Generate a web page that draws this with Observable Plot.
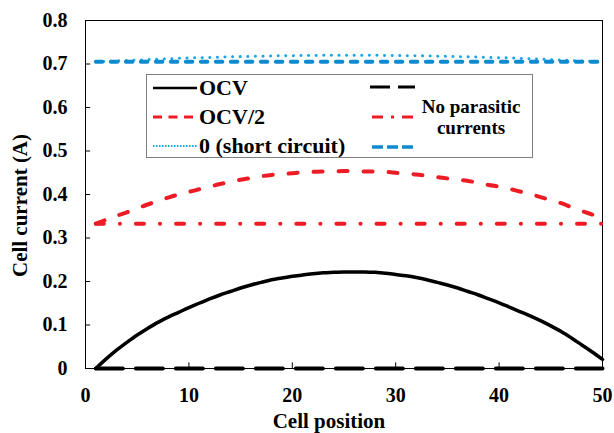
<!DOCTYPE html>
<html>
<head>
<meta charset="utf-8">
<script src="https://cdn.jsdelivr.net/npm/d3@7"></script>
<script src="https://cdn.jsdelivr.net/npm/@observablehq/plot@0.6"></script>
<style>
  html, body { margin: 0; padding: 0; background: #fff; }
  #wrap { position: relative; width: 614px; height: 433px; background: #fff; font-family: "Liberation Serif", "Tinos", "Times New Roman", "DejaVu Serif", serif; font-weight: bold; }
  #chart svg, #chart svg text { font-family: "Liberation Serif", "Tinos", "Times New Roman", "DejaVu Serif", serif !important; font-weight: bold; }
  #legend { position: absolute; left: 146px; top: 74px; width: 387px; height: 84px; box-sizing: border-box; border: 1px solid #7f7f7f; background: #fff; }
  #legend svg { position: absolute; left: -1px; top: -1px; overflow: visible; }
  #legend text { font-family: "Liberation Serif", "Tinos", "Times New Roman", "DejaVu Serif", serif; font-weight: bold; fill: #000; }
</style>
</head>
<body>
<div id="wrap">
  <div id="chart"></div>
  <div id="legend"></div>
</div>
<script>
// ---- data ----
const positions = d3.range(1, 51); // cell positions 1..50

const ocv = [0.000, 0.022, 0.042, 0.060, 0.077, 0.092, 0.106, 0.118, 0.129, 0.140,
             0.150, 0.160, 0.169, 0.177, 0.185, 0.192, 0.198, 0.204, 0.208, 0.212,
             0.215, 0.218, 0.220, 0.221, 0.222, 0.222, 0.222, 0.221, 0.219, 0.216,
             0.213, 0.209, 0.204, 0.198, 0.192, 0.185, 0.177, 0.169, 0.160, 0.151,
             0.141, 0.131, 0.121, 0.110, 0.098, 0.085, 0.070, 0.054, 0.038, 0.021];

const ocvHalf = [0.333, 0.342, 0.351, 0.359, 0.368, 0.377, 0.385, 0.393, 0.400, 0.406,
                 0.412, 0.418, 0.424, 0.429, 0.434, 0.438, 0.442, 0.445, 0.447, 0.449,
                 0.451, 0.452, 0.453, 0.453, 0.454, 0.454, 0.453, 0.453, 0.452, 0.450,
                 0.448, 0.446, 0.443, 0.440, 0.437, 0.434, 0.431, 0.427, 0.422, 0.418,
                 0.413, 0.407, 0.401, 0.394, 0.387, 0.380, 0.371, 0.362, 0.354, 0.345];

const shortCircuit = [0.705, 0.706, 0.707, 0.708, 0.709, 0.710, 0.711, 0.712, 0.713, 0.714,
                      0.7145, 0.715, 0.716, 0.7165, 0.717, 0.7175, 0.718, 0.7185, 0.719, 0.719,
                      0.7195, 0.7195, 0.720, 0.720, 0.720, 0.720, 0.720, 0.720, 0.7195, 0.7195,
                      0.719, 0.719, 0.7185, 0.718, 0.7175, 0.717, 0.7165, 0.716, 0.715, 0.7145,
                      0.714, 0.713, 0.712, 0.711, 0.710, 0.709, 0.708, 0.707, 0.706, 0.705];

// "No parasitic currents" reference lines (constant)
const npPositions = [1, 50];
const npOCV = [0, 0];
const npOCVHalf = [0.333, 0.333];
const npShort = [0.705, 0.705];

const xTicks = [0, 10, 20, 30, 40, 50];
const yTicks = [0, 0.1, 0.2, 0.3, 0.4, 0.5, 0.6, 0.7, 0.8];
const yTickLabels = ["0", "0.1", "0.2", "0.3", "0.4", "0.5", "0.6", "0.7", "0.8"];

const xLabel = "Cell position";
const yLabel = "Cell current (A)";
const legendLabels = ["OCV", "OCV/2", "0 (short circuit)"];
const legendRight = ["No parasitic", "currents"];

// colours
const RED = "#ED1C24";
const BLUE_DASH = "#0E8BD0";
const BLUE_DOT = "#1AA6E6";
const FONT = "'Liberation Serif', 'Tinos', 'Times New Roman', 'DejaVu Serif', serif";

const rows = (xs, ys) => xs.map((x, i) => ({x, y: ys[i]}));

const chart = Plot.plot({
  width: 614,
  height: 433,
  marginLeft: 85,
  marginRight: 12,
  marginTop: 20,
  marginBottom: 65,
  style: {fontFamily: FONT, fontWeight: "bold", fontSize: "20px", background: "#fff", color: "#000"},
  x: {domain: [0, 50]},
  y: {domain: [0, 0.8]},
  marks: [
    Plot.axisX({ticks: xTicks, tickSize: 0, tickPadding: 19, fontSize: 20, label: null}),
    Plot.axisY({ticks: yTicks, tickSize: 0, tickPadding: 18, fontSize: 20, label: null,
                tickFormat: d => yTickLabels[yTicks.indexOf(d)]}),
    // inward ticks
    Plot.ruleY(yTicks.slice(1, -1), {x1: 0, x2: 0.5, stroke: "#000", strokeWidth: 1}),
    Plot.ruleX(xTicks.slice(1, -1), {y1: 0, y2: 0.013, stroke: "#000", strokeWidth: 1}),
    Plot.frame({stroke: "#000", strokeWidth: 1}),
    // series
    Plot.line(rows(positions, ocv), {x: "x", y: "y", stroke: "#000", strokeWidth: 3.5, curve: "catmull-rom"}),
    Plot.line(rows(positions, ocvHalf), {x: "x", y: "y", stroke: RED, strokeWidth: 4, strokeDasharray: "9,16", strokeLinecap: "round", curve: "catmull-rom"}),
    Plot.line(rows(positions, shortCircuit), {x: "x", y: "y", stroke: BLUE_DOT, strokeWidth: 3, strokeDasharray: "0.1,7.5", strokeLinecap: "round", curve: "catmull-rom"}),
    Plot.line(rows(npPositions, npOCV), {x: "x", y: "y", stroke: "#000", strokeWidth: 4, strokeDasharray: "27,13"}),
    Plot.line(rows(npPositions, npOCVHalf), {x: "x", y: "y", stroke: RED, strokeWidth: 4, strokeDasharray: "8,16,0.1,16", strokeLinecap: "round"}),
    Plot.line(rows(npPositions, npShort), {x: "x", y: "y", stroke: BLUE_DASH, strokeWidth: 4, strokeDasharray: "6.5,8.5", strokeLinecap: "round"}),
    // axis titles
    Plot.text([xLabel], {text: d => d, frameAnchor: "bottom", dy: 53, dx: -15, fontSize: 21, fontWeight: "bold", textAnchor: "middle", lineAnchor: "middle"}),
    Plot.text([yLabel], {text: d => d, frameAnchor: "left", rotate: -90, dx: -65, dy: 11, fontSize: 21, fontWeight: "bold", textAnchor: "middle", lineAnchor: "middle"})
  ]
});
document.getElementById("chart").appendChild(chart);

// ---- legend (inside plot area) ----
const lg = d3.select("#legend").append("svg").attr("width", 387).attr("height", 84)
  .style("font-family", FONT).style("font-weight", "bold");
const legendStyles = [
  {stroke: "#000", width: 2.5, dash: null, cap: "butt"},
  {stroke: RED, width: 3, dash: "9,6.5", cap: "butt"},
  {stroke: BLUE_DOT, width: 2, dash: "1.5,1.5", cap: "butt"}
];
const legendRightStyles = [
  {stroke: "#000", width: 3, dash: "20,8", cap: "butt", x1: 224, x2: 269},
  {stroke: RED, width: 3, dash: "11,8,3,8", cap: "butt", x1: 226, x2: 267},
  {stroke: BLUE_DASH, width: 3.5, dash: "11,4", cap: "butt", x1: 226, x2: 267}
];
const rowLineY = [14, 43, 72];
const rowTextY = [20.5, 49.5, 78.5];
legendLabels.forEach((label, i) => {
  const s = legendStyles[i];
  lg.append("line").attr("x1", 7).attr("x2", 51).attr("y1", rowLineY[i]).attr("y2", rowLineY[i])
    .attr("stroke", s.stroke).attr("stroke-width", s.width)
    .attr("stroke-dasharray", s.dash).attr("stroke-linecap", s.cap);
  lg.append("text").attr("x", 53).attr("y", rowTextY[i]).attr("font-size", 22).text(label);
  const r = legendRightStyles[i];
  const ry = [13, 43, 73][i];
  lg.append("line").attr("x1", r.x1).attr("x2", r.x2).attr("y1", ry).attr("y2", ry)
    .attr("stroke", r.stroke).attr("stroke-width", r.width)
    .attr("stroke-dasharray", r.dash).attr("stroke-linecap", r.cap);
});
legendRight.forEach((t, i) => {
  lg.append("text").attr("x", 325).attr("y", [38.5, 59.5][i]).attr("font-size", 19)
    .attr("text-anchor", "middle").text(t);
});
</script>
</body>
</html>
